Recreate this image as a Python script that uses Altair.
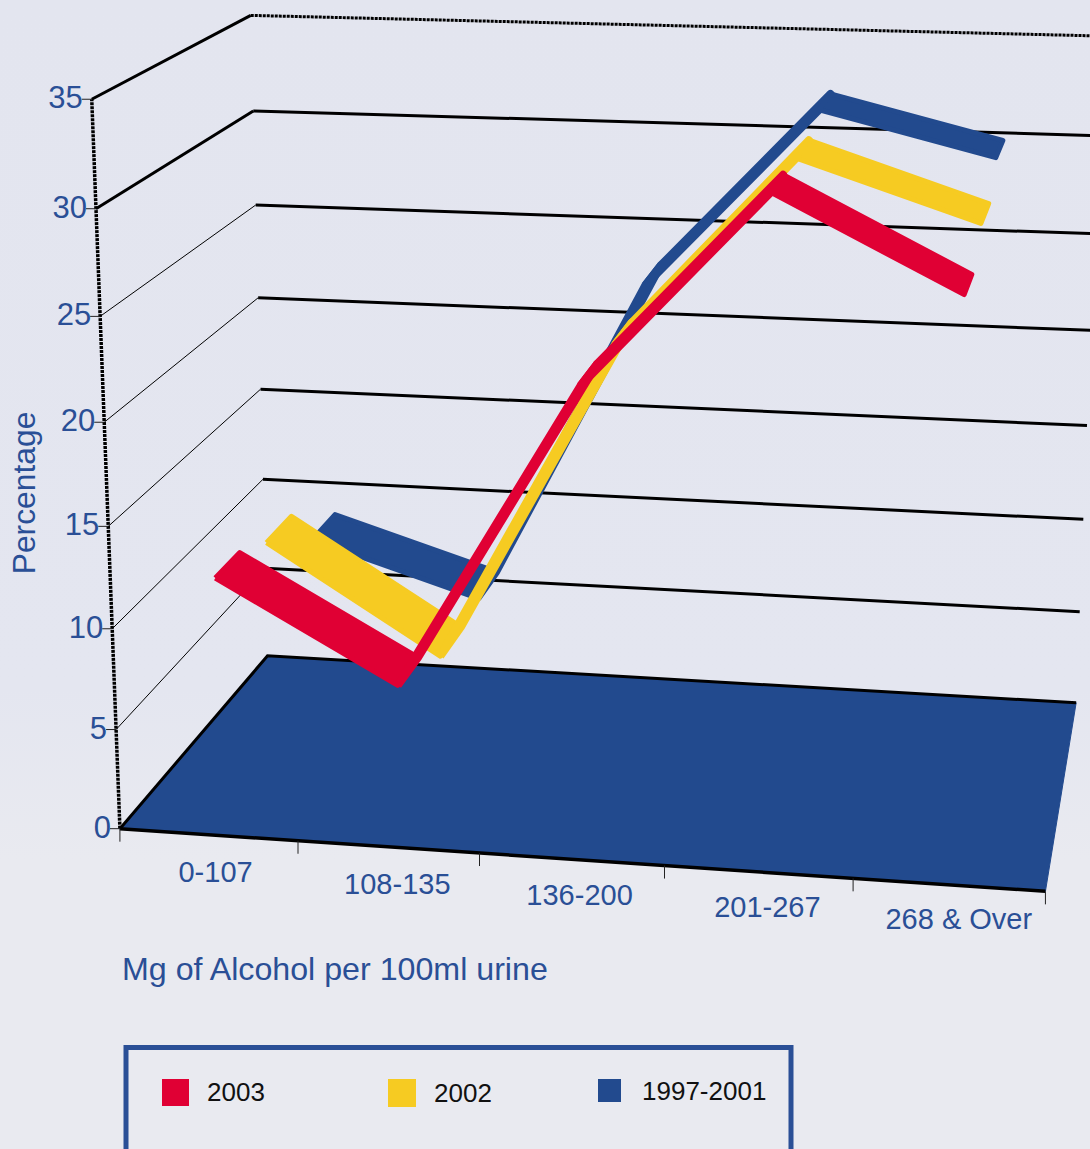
import altair as alt
import numpy as np
import pandas as pd

# Chart content
CATEGORIES = ["0-107", "108-135", "136-200", "201-267", "268 & Over"]
VALUE_TICKS = [0, 5, 10, 15, 20, 25, 30, 35]
SERIES_2003 = [12.0, 7.2, 22.1, 31.3, 27.0]
SERIES_2002 = [11.1, 5.7, 21.9, 31.2, 28.4]
SERIES_1997_2001 = [8.7, 6.0, 22.9, 32.0, 29.9]
SERIES_NAMES = ["1997-2001", "2002", "2003"]
SERIES_VALUES = [SERIES_1997_2001, SERIES_2002, SERIES_2003]
SERIES_COLORS = ["#224A8E", "#F6CB22", "#E00034"]
SERIES_DEPTH = [(0.76, 0.94), (0.43, 0.61), (0.09, 0.25)]
CATEGORY_CENTERS = [0.5, 1.5, 2.5, 3.48, 4.47]
SEGMENT_EDGE = [5, 8, 8, 5]

BLUE_TEXT = "#2A4F96"
FONT = "Liberation Sans"
W, H = 1090, 1149

# Calibration of the oblique view: (category, value, depth) -> page position
FRONT_LEFT = [(120, 828), (116, 730), (112, 628), (110, 523), (105, 420), (100, 316), (96, 210), (90, 100)]
BACK_LEFT = [(268, 657.5), (265, 569.5), (263, 479.5), (260, 388), (258, 297), (256, 204), (254, 111), (249, 17.5)]
BACK_RIGHT = [(1075, 702), (1080, 610), (1083, 518), (1087, 427), (1091, 330), (1095, 233), (1099, 135), (1103, 38)]
FRONT_BASE = [(299, 842), (479, 854), (665, 867), (853, 879), (1044, 892)]


def fit_view():
    rows = []
    def add(t, v, z, px):
        X = [t / 5, v / 35, z, 1]
        u, w = px[0] / 1000, px[1] / 1000
        rows.append(X + [0, 0, 0, 0] + [-u * a for a in X])
        rows.append([0, 0, 0, 0] + X + [-w * a for a in X])
    for v, p in zip(VALUE_TICKS, FRONT_LEFT):
        add(0, v, 0, p)
    for v, p in zip(VALUE_TICKS, BACK_LEFT):
        add(0, v, 1, p)
    for v, p in zip(VALUE_TICKS, BACK_RIGHT):
        add(5, v, 1, p)
    for i, p in enumerate(FRONT_BASE):
        add(i + 1, 0, 0, p)
    return np.linalg.svd(np.array(rows))[2][-1].reshape(3, 4)


VIEW = fit_view()


def project(t, v, z):
    a, b, c = VIEW @ np.array([t / 5, v / 35, z, 1])
    return float(a / c * 1000), float(b / c * 1000)


X = alt.X("x:Q", scale=alt.Scale(domain=[0, W], nice=False, zero=False), axis=None)
Y = alt.Y("y:Q", scale=alt.Scale(domain=[H, 0], nice=False, zero=False), axis=None)


def polyline(points, color, width, dash=None, fill=None, join="miter"):
    df = pd.DataFrame({"x": [p[0] for p in points], "y": [p[1] for p in points], "k": range(len(points))})
    kw = {"color": color, "strokeWidth": width, "strokeJoin": join, "clip": False}
    if dash:
        kw["strokeDash"] = dash
    if fill:
        kw["fill"] = fill
    return alt.Chart(df).mark_line(**kw).encode(x=X, y=Y, order="k:Q")


def label(text, x, y, size, color=BLUE_TEXT, align="center", angle=0):
    df = pd.DataFrame({"x": [x], "y": [y], "t": [text]})
    return alt.Chart(df).mark_text(
        font=FONT, fontSize=size, color=color, align=align, baseline="middle", angle=angle
    ).encode(x=X, y=Y, text="t:N")


def box(x0, y0, x1, y1, **kw):
    df = pd.DataFrame({"x": [x0], "x2": [x1], "y": [y0], "y2": [y1]})
    return alt.Chart(df).mark_rect(**kw).encode(x=X, x2="x2:Q", y=Y, y2="y2:Q")


# Soft wash behind the plot, fading into the page colour
wash = alt.Gradient(
    gradient="linear", x1=0, y1=0, x2=0, y2=1,
    stops=[
        alt.GradientStop(offset=0, color="#E3E5EF"),
        alt.GradientStop(offset=0.8, color="#E4E6F0"),
        alt.GradientStop(offset=1, color="#E9EAF0"),
    ],
)
layers = [box(0, 0, W, 860, fill=wash)]

# Walls: rules along the left wall, then across the back wall
for v in VALUE_TICKS[1:]:
    heavy = v >= 30
    layers.append(polyline([project(0, v, 0), project(0, v, 1)], "#000000", 3 if heavy else 1))
    dash = [3, 1] if v == 35 else None
    layers.append(polyline([project(0, v, 1), project(5, v, 1)], "#000000", 3, dash=dash))

# Dotted vertical axis and its ticks
layers.append(polyline([project(0, 0, 0), project(0, 35, 0)], "#000000", 3.5, dash=[3, 1]))
for v in VALUE_TICKS:
    px, py = project(0, v, 0)
    layers.append(polyline([(px - 10, py), (px, py)], "#222222", 1))
    layers.append(label(str(v), px - 9, py, 31, align="right"))

# Floor
floor = [project(0, 0, 0), project(0, 0, 1), project(5, 0, 1), project(5, 0, 0), project(0, 0, 0)]
layers.append(polyline(floor, "#224A8E", 1, fill="#224A8E"))
layers.append(polyline(floor[:3], "#000000", 3))
layers.append(polyline([floor[0], floor[3]], "#000000", 3.5))

# Category ticks and labels
for i in range(6):
    px, py = project(i, 0, 0)
    layers.append(polyline([(px, py), (px, py + 13)], "#222222", 1))
LABEL_SHIFT = [7, 9, 8, 9, 10]
LABEL_DROP = [38, 38, 37, 36, 35]
for i, name in enumerate(CATEGORIES):
    px, py = project(i + 0.5, 0, 0)
    layers.append(label(name, px + LABEL_SHIFT[i], py + LABEL_DROP[i], 29))

# Ribbons, back series first so nearer ones cover them
for values, color, (z0, z1) in zip(SERIES_VALUES, SERIES_COLORS, SERIES_DEPTH):
    for i in range(len(values) - 1):
        t0, t1 = CATEGORY_CENTERS[i], CATEGORY_CENTERS[i + 1]
        a = values[i]
        b = values[i + 1]
        quad = [project(t0, a, z0), project(t1, b, z0), project(t1, b, z1), project(t0, a, z1), project(t0, a, z0)]
        layers.append(polyline(quad, color, SEGMENT_EDGE[i], fill=color, join="round"))

# Axis titles
layers.append(label("Percentage", 25, 493, 31.8, angle=270))
layers.append(label("Mg of Alcohol per 100ml urine", 122, 970, 32.2, align="left"))

# Legend
layers.append(box(126, 1047.5, 791, 1200, filled=False, stroke="#2A4F96", strokeWidth=5, clip=False))
layers.append(box(162, 1079, 189, 1106, color="#E00034"))
layers.append(label("2003", 207, 1093, 26, color="#111111", align="left"))
layers.append(box(388, 1079, 416, 1107, color="#F6CB22"))
layers.append(label("2002", 434, 1094, 26, color="#111111", align="left"))
layers.append(box(598, 1079, 621, 1102, color="#224A8E"))
layers.append(label("1997-2001", 642, 1092, 26, color="#111111", align="left"))

chart = (
    alt.layer(*layers)
    .properties(width=W, height=H, padding=0, background="#E9EAF0", autosize=alt.AutoSizeParams(type="none"))
    .configure_view(stroke=None)
)

chart.save("out.html", embed_options={"renderer": "svg", "actions": False})
